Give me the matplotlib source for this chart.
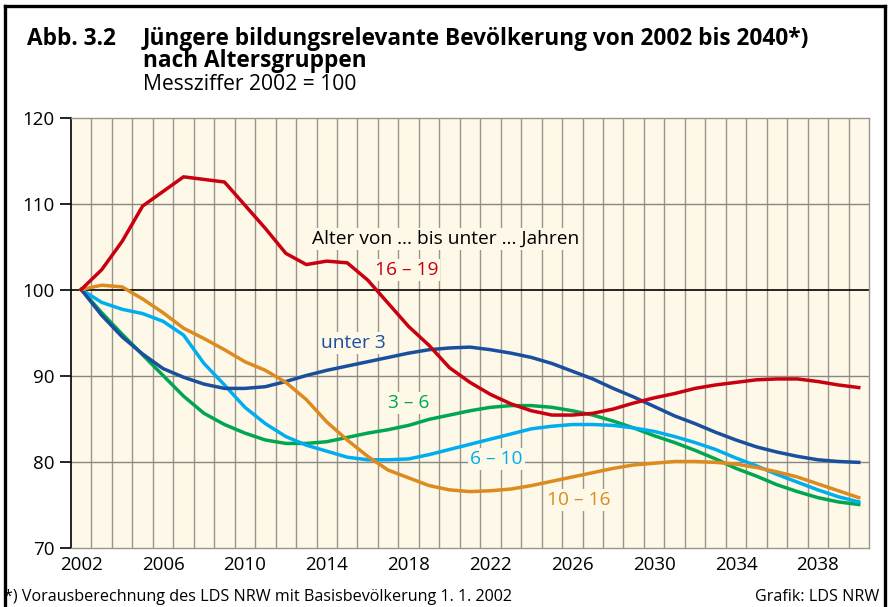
import matplotlib
matplotlib.use("Agg")
import matplotlib.pyplot as plt
from matplotlib.lines import Line2D

plt.rcParams['font.family'] = ['Open Sans', 'DejaVu Sans']

years = list(range(2002, 2041))

u3 = [100, 97.0, 94.5, 92.5, 90.8, 89.8, 89.0, 88.5, 88.5, 88.7,
      89.3, 90.0, 90.6, 91.1, 91.6, 92.1, 92.6, 93.0, 93.2, 93.3,
      93.0, 92.6, 92.1, 91.4, 90.5, 89.6, 88.5, 87.5, 86.4, 85.3,
      84.4, 83.4, 82.5, 81.7, 81.1, 80.6, 80.2, 80.0, 79.9]
a3_6 = [100, 97.3, 94.8, 92.4, 90.0, 87.6, 85.6, 84.3, 83.3, 82.5,
        82.1, 82.1, 82.3, 82.8, 83.3, 83.7, 84.2, 84.9, 85.4, 85.9,
        86.3, 86.5, 86.5, 86.3, 85.9, 85.4, 84.7, 83.9, 83.0, 82.2,
        81.3, 80.3, 79.2, 78.3, 77.3, 76.5, 75.8, 75.3, 75.0]
a6_10 = [100, 98.5, 97.7, 97.2, 96.3, 94.7, 91.4, 88.9, 86.3, 84.4,
         82.9, 81.9, 81.2, 80.5, 80.2, 80.2, 80.3, 80.8, 81.4, 82.0,
         82.6, 83.2, 83.8, 84.1, 84.3, 84.3, 84.2, 83.9, 83.5, 82.9,
         82.2, 81.4, 80.4, 79.5, 78.5, 77.6, 76.7, 75.9, 75.3]
a10_16 = [100, 100.5, 100.3, 98.9, 97.3, 95.5, 94.3, 93.0, 91.6, 90.6,
          89.2, 87.2, 84.6, 82.5, 80.6, 79.0, 78.1, 77.2, 76.7, 76.5,
          76.6, 76.8, 77.2, 77.7, 78.2, 78.7, 79.2, 79.6, 79.8, 80.0,
          80.0, 79.9, 79.7, 79.3, 78.8, 78.2, 77.4, 76.6, 75.8]
a16_19 = [100, 102.3, 105.6, 109.7, 111.4, 113.1, 112.8, 112.5, 109.8, 107.1,
          104.2, 102.9, 103.3, 103.1, 101.1, 98.4, 95.7, 93.5, 90.9, 89.2,
          87.8, 86.7, 85.9, 85.4, 85.4, 85.6, 86.1, 86.8, 87.4, 87.9,
          88.5, 88.9, 89.2, 89.5, 89.6, 89.6, 89.3, 88.9, 88.6]

xticks = [2002, 2006, 2010, 2014, 2018, 2022, 2026, 2030, 2034, 2038]
yticks = [70, 80, 90, 100, 110, 120]

# colours
c_red = '#c8000f'
c_blue = '#1a4f9e'
c_green = '#00a651'
c_light = '#00aeef'
c_orange = '#dd8a1f'
bg = '#fdf8e7'

fig = plt.figure(figsize=(8.93, 6.07), dpi=100)
ax = fig.add_axes([71 / 893, 1 - 547.5 / 607, (869 - 71) / 893, (547.5 - 117.5) / 607])
ax.set_facecolor(bg)

# grid
for x in range(2002, 2040):
    ax.axvline(x + 0.5, color='#9a968c', lw=1.0, zorder=1)
for y in [80, 90, 110]:
    ax.axhline(y, color='#8a8780', lw=1.0, zorder=1)
ax.axhline(100, color='black', lw=1.2, zorder=1)

lw = 2.5
ax.plot(years, a16_19, color=c_red, lw=lw, zorder=5)
ax.plot(years, u3, color=c_blue, lw=lw, zorder=4)
ax.plot(years, a3_6, color=c_green, lw=lw, zorder=3)
ax.plot(years, a6_10, color=c_light, lw=lw, zorder=3)
ax.plot(years, a10_16, color=c_orange, lw=lw, zorder=4)

box = dict(facecolor=bg, edgecolor='none', pad=1.5)
fs = 13.8
ax.text(2013.3, 105.9, 'Alter von … bis unter … Jahren', fontsize=fs, va='center',
        ha='left', color='black', bbox=box, zorder=6)
ax.text(2017.9, 102.3, '16 – 19', fontsize=fs, va='center', ha='center', color=c_red, bbox=box, zorder=6)
ax.text(2015.3, 93.8, 'unter 3', fontsize=fs, va='center', ha='center', color=c_blue, bbox=box, zorder=6)
ax.text(2018.0, 86.8, '3 – 6', fontsize=fs, va='center', ha='center', color=c_green, bbox=box, zorder=6)
ax.text(2022.3, 80.3, '6 – 10', fontsize=fs, va='center', ha='center', color=c_light, bbox=box, zorder=6)
ax.text(2026.3, 75.5, '10 – 16', fontsize=fs, va='center', ha='center', color=c_orange, bbox=box, zorder=6)

ax.set_xlim(2001.5, 2040.5)
ax.set_ylim(70, 120)
ax.set_xticks(xticks)
ax.set_xticklabels([str(t) for t in xticks])
ax.set_yticks(yticks)
ax.tick_params(axis='x', length=0, labelsize=13.5, pad=6)
ax.tick_params(axis='y', length=8, width=1.2, labelsize=13.5, pad=4, direction='out')

for side in ['top', 'right', 'bottom']:
    ax.spines[side].set_color('#9a968c')
    ax.spines[side].set_linewidth(1.0)
ax.spines['left'].set_color('black')
ax.spines['left'].set_linewidth(1.2)

# titles
fig.text(27 / 893, 1 - 45 / 607, 'Abb. 3.2', fontsize=16.3, fontweight='bold', va='baseline', ha='left')
fig.text(143 / 893, 1 - 45 / 607, 'Jüngere bildungsrelevante Bevölkerung von 2002 bis 2040*)',
         fontsize=16.3, fontweight='bold', va='baseline', ha='left')
fig.text(143 / 893, 1 - 67 / 607, 'nach Altersgruppen', fontsize=16.3, fontweight='bold',
         va='baseline', ha='left')
fig.text(143 / 893, 1 - 90 / 607, 'Messziffer 2002 = 100', fontsize=15.2, va='baseline', ha='left')

fig.text(4 / 893, 1 - 597 / 607, '*) Vorausberechnung des LDS NRW mit Basisbevölkerung 1. 1. 2002',
         fontsize=11.6, va='center', ha='left')
fig.text(879 / 893, 1 - 597 / 607, 'Grafik: LDS NRW', fontsize=11.6, va='center', ha='right')

# frame around figure
fw = 2.4
fig.add_artist(Line2D([4.5 / 893, 4.5 / 893], [-0.1, 1 - 6 / 607], color='black', lw=fw,
                      transform=fig.transFigure))
fig.add_artist(Line2D([4.5 / 893, 884.5 / 893], [1 - 6 / 607, 1 - 6 / 607], color='black', lw=fw,
                      transform=fig.transFigure))
fig.add_artist(Line2D([884.5 / 893, 884.5 / 893], [-0.1, 1 - 6 / 607], color='black', lw=fw,
                      transform=fig.transFigure))

fig.savefig('out.png', dpi=100)
